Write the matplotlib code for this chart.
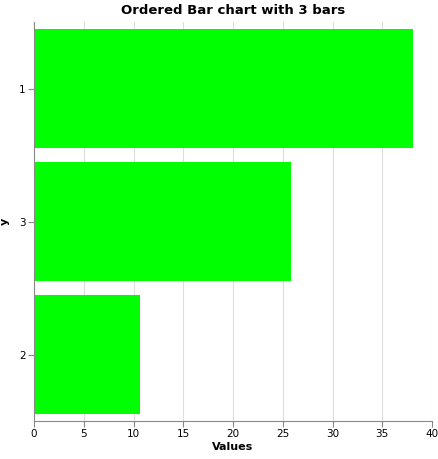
import matplotlib.pyplot as plt

categories = ["1", "3", "2"]
values = [38.1, 25.8, 10.65]

fig = plt.figure(figsize=(4.39, 4.59), dpi=100)
ax = fig.add_axes([34 / 439, 1 - 421 / 459, 398 / 439, 399 / 459])

pos = list(range(len(categories)))
ax.barh(pos, values, height=0.9, color="#00ff00", zorder=2)
ax.set_yticks(pos)
ax.set_yticklabels(categories)
ax.set_ylim(len(categories) - 0.5, -0.5)
ax.set_xlim(0, 40)
ax.set_xticks(range(0, 41, 5))
ax.grid(axis="x", color="#dddddd", linewidth=0.8, zorder=0)
ax.tick_params(labelsize=7.5, length=4, pad=2, color="#888888")
for s in ["top", "right"]:
    ax.spines[s].set_visible(False)
for s in ["left", "bottom"]:
    ax.spines[s].set_color("#888888")
ax.set_xlabel("Values", fontsize=8, fontweight="bold", labelpad=2)
ax.set_ylabel("y", fontsize=8, fontweight="bold")
ax.yaxis.set_label_coords(-24 / 398, 0.5)
ax.set_title("Ordered Bar chart with 3 bars", fontsize=9.5, fontweight="bold", pad=6)

fig.savefig("out.png", dpi=100)
